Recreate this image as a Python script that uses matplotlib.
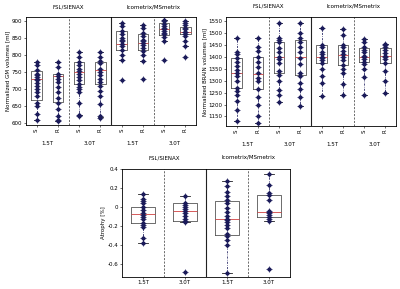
import matplotlib
matplotlib.use("Agg")
import matplotlib.pyplot as plt
import numpy as np

# ---------------- data ----------------
tick_labels_top = ["S", "R", "S", "R", "S", "R", "S", "R"]
group_labels_top = ["1.5T", "3.0T", "1.5T", "3.0T"]
group_labels_bottom = ["1.5T", "3.0T", "1.5T", "3.0T"]
methods = ["FSL/SIENAX", "Icometrix/MSmetrix"]

gm_points = [
    [780, 770, 757, 745, 740, 735, 730, 725, 718, 710, 700, 690, 680, 660, 650, 628, 610],
    [778, 765, 745, 738, 730, 720, 705, 690, 675, 660, 640, 620, 610, 605],
    [808, 795, 780, 770, 760, 752, 745, 735, 725, 715, 705, 700, 690, 660, 625, 622],
    [808, 795, 782, 775, 760, 750, 740, 730, 720, 710, 695, 680, 655, 620, 615],
    [893, 885, 870, 860, 850, 845, 840, 833, 825, 815, 800, 785, 725],
    [887, 878, 865, 855, 845, 840, 836, 830, 820, 812, 800, 783, 728],
    [902, 898, 890, 885, 878, 875, 870, 865, 860, 852, 840, 785],
    [898, 893, 888, 880, 875, 868, 866, 862, 855, 840, 825, 793],
]
gm_q1 = [668, 663, 715, 715, 815, 813, 857, 860]
gm_med = [730, 738, 750, 757, 833, 836, 875, 866]
gm_q3 = [752, 743, 778, 778, 870, 862, 892, 883]
gm_lo = [608, 605, 625, 618, 785, 783, 840, 825]
gm_hi = [780, 778, 808, 808, 893, 887, 902, 898]

br_points = [
    [1480, 1420, 1410, 1395, 1380, 1360, 1345, 1330, 1320, 1300, 1270, 1255, 1240, 1215, 1175, 1133],
    [1480, 1440, 1425, 1400, 1380, 1355, 1330, 1310, 1300, 1265, 1230, 1200, 1150, 1122],
    [1540, 1480, 1470, 1460, 1435, 1420, 1400, 1390, 1375, 1340, 1325, 1300, 1260, 1240, 1210],
    [1540, 1500, 1480, 1460, 1440, 1420, 1395, 1370, 1330, 1320, 1290, 1265, 1230, 1193],
    [1520, 1450, 1440, 1420, 1410, 1400, 1395, 1385, 1375, 1350, 1320, 1290, 1235],
    [1515, 1490, 1450, 1440, 1425, 1410, 1400, 1385, 1365, 1350, 1330, 1285, 1240],
    [1475, 1460, 1440, 1430, 1420, 1405, 1398, 1390, 1380, 1370, 1350, 1315, 1238],
    [1455, 1450, 1440, 1430, 1415, 1405, 1400, 1390, 1375, 1340, 1300, 1250],
]
br_q1 = [1268, 1265, 1330, 1325, 1375, 1365, 1380, 1372]
br_med = [1330, 1328, 1398, 1398, 1400, 1408, 1400, 1405]
br_q3 = [1393, 1400, 1460, 1470, 1450, 1448, 1435, 1435]
br_lo = [1133, 1122, 1210, 1193, 1235, 1240, 1238, 1250]
br_hi = [1480, 1480, 1540, 1540, 1520, 1515, 1475, 1455]

at_points = [
    [0.14, 0.09, 0.06, 0.04, 0.0, -0.03, -0.06, -0.08, -0.10, -0.12, -0.17, -0.19, -0.21, -0.32, -0.38],
    [0.12, 0.04, 0.02, 0.0, -0.02, -0.04, -0.06, -0.09, -0.12, -0.14, -0.16, -0.68],
    [0.27, 0.22, 0.16, 0.12, 0.08, 0.04, -0.01, -0.05, -0.09, -0.12, -0.13, -0.15, -0.19,
     -0.22, -0.28, -0.30, -0.34, -0.40, -0.69],
    [0.35, 0.23, 0.15, 0.13, 0.08, -0.04, -0.05, -0.06, -0.08, -0.10, -0.12, -0.14, -0.65],
]
at_q1 = [-0.17, -0.14, -0.29, -0.10]
at_med = [-0.07, -0.04, -0.12, -0.055]
at_q3 = [0.005, 0.04, 0.07, 0.13]
at_lo = [-0.38, -0.16, -0.69, -0.14]
at_hi = [0.14, 0.12, 0.27, 0.35]

# ---------------- style ----------------
FS = 4
PT = "#1b1b5a"
plt.rcParams["font.family"] = ["DejaVu Sans"]

fig = plt.figure(figsize=(4.0, 2.89), dpi=100)


def draw_panel(ax, points, q1, med, q3, lo, hi, width):
    n = len(points)
    pos = np.arange(1, n + 1)
    stats = []
    for i in range(n):
        stats.append(dict(q1=q1[i], med=med[i], q3=q3[i], whislo=lo[i], whishi=hi[i], fliers=[]))
    ax.bxp(stats, positions=pos, widths=width, showfliers=False,
           boxprops=dict(color="#555555", linewidth=0.6),
           medianprops=dict(color="#d04040", linewidth=0.6),
           whiskerprops=dict(color="#30306a", linewidth=0.6, linestyle=(0, (2.5, 1.5, 0.8, 1.5))),
           capprops=dict(color="#222222", linewidth=0.6),
           capwidths=width * 0.45)
    for i in range(n):
        y = np.array(points[i])
        x = np.full(len(y), pos[i])
        ax.plot(x, y, linestyle="none", marker="o", markersize=2.0, color=PT, zorder=4)
        ax.plot(x, y, linestyle="none", marker="+", markersize=4.0, markeredgewidth=0.55, color=PT, zorder=4)
    ax.set_xlim(0.5, n + 0.5)
    ax.tick_params(labelsize=FS, length=1.5, width=0.4, pad=1)
    for s in ax.spines.values():
        s.set_linewidth(0.6)
    return pos


def top_panel(rect, points, q1, med, q3, lo, hi, ylim, yticks, ylabel):
    ax = fig.add_axes(rect)
    pos = draw_panel(ax, points, q1, med, q3, lo, hi, 0.5)
    ax.set_ylim(*ylim)
    ax.set_yticks(yticks)
    ax.set_xticks(pos)
    ax.set_xticklabels(tick_labels_top, rotation=90)
    ax.set_ylabel(ylabel, fontsize=FS, labelpad=1)
    for xv in (2.5, 6.5):
        ax.axvline(xv, color="#333333", linewidth=0.5, linestyle=(0, (3, 2)))
    ax.axvline(4.5, color="#222222", linewidth=0.8)
    for k, lab in enumerate(group_labels_top):
        ax.text(1.5 + 2 * k, -0.17, lab, transform=ax.get_xaxis_transform(),
                ha="center", va="center", fontsize=FS)
    ax.text(2.5, 1.10, methods[0], transform=ax.get_xaxis_transform(),
            ha="center", va="center", fontsize=FS)
    ax.text(6.5, 1.10, methods[1], transform=ax.get_xaxis_transform(),
            ha="center", va="center", fontsize=FS)
    return ax


top_panel([0.065, 0.568, 0.425, 0.372], gm_points, gm_q1, gm_med, gm_q3, gm_lo, gm_hi,
          (595, 910), np.arange(600, 901, 50), "Normalized GM volumes [ml]")
top_panel([0.565, 0.564, 0.425, 0.376], br_points, br_q1, br_med, br_q3, br_lo, br_hi,
          (1110, 1565), np.arange(1150, 1551, 50), "Normalized BRAIN volumes [ml]")

axb = fig.add_axes([0.305, 0.042, 0.42, 0.373])
pos = draw_panel(axb, at_points, at_q1, at_med, at_q3, at_lo, at_hi, 0.55)
axb.set_ylim(-0.73, 0.4)
axb.set_yticks([-0.6, -0.4, -0.2, 0, 0.2, 0.4])
axb.set_yticklabels(["-0.6", "-0.4", "-0.2", "0", "0.2", "0.4"])
axb.set_xticks(pos)
axb.set_xticklabels(group_labels_bottom)
axb.set_ylabel("Atrophy [%]", fontsize=FS, labelpad=1)
axb.axvline(1.5, color="#333333", linewidth=0.5, linestyle=(0, (3, 2)))
axb.axvline(3.5, color="#333333", linewidth=0.5, linestyle=(0, (3, 2)))
axb.axvline(2.5, color="#222222", linewidth=0.8)
axb.text(1.5, 1.10, methods[0], transform=axb.get_xaxis_transform(),
         ha="center", va="center", fontsize=FS)
axb.text(3.5, 1.11, methods[1], transform=axb.get_xaxis_transform(),
         ha="center", va="center", fontsize=FS)

fig.savefig("out.png", dpi=100)
